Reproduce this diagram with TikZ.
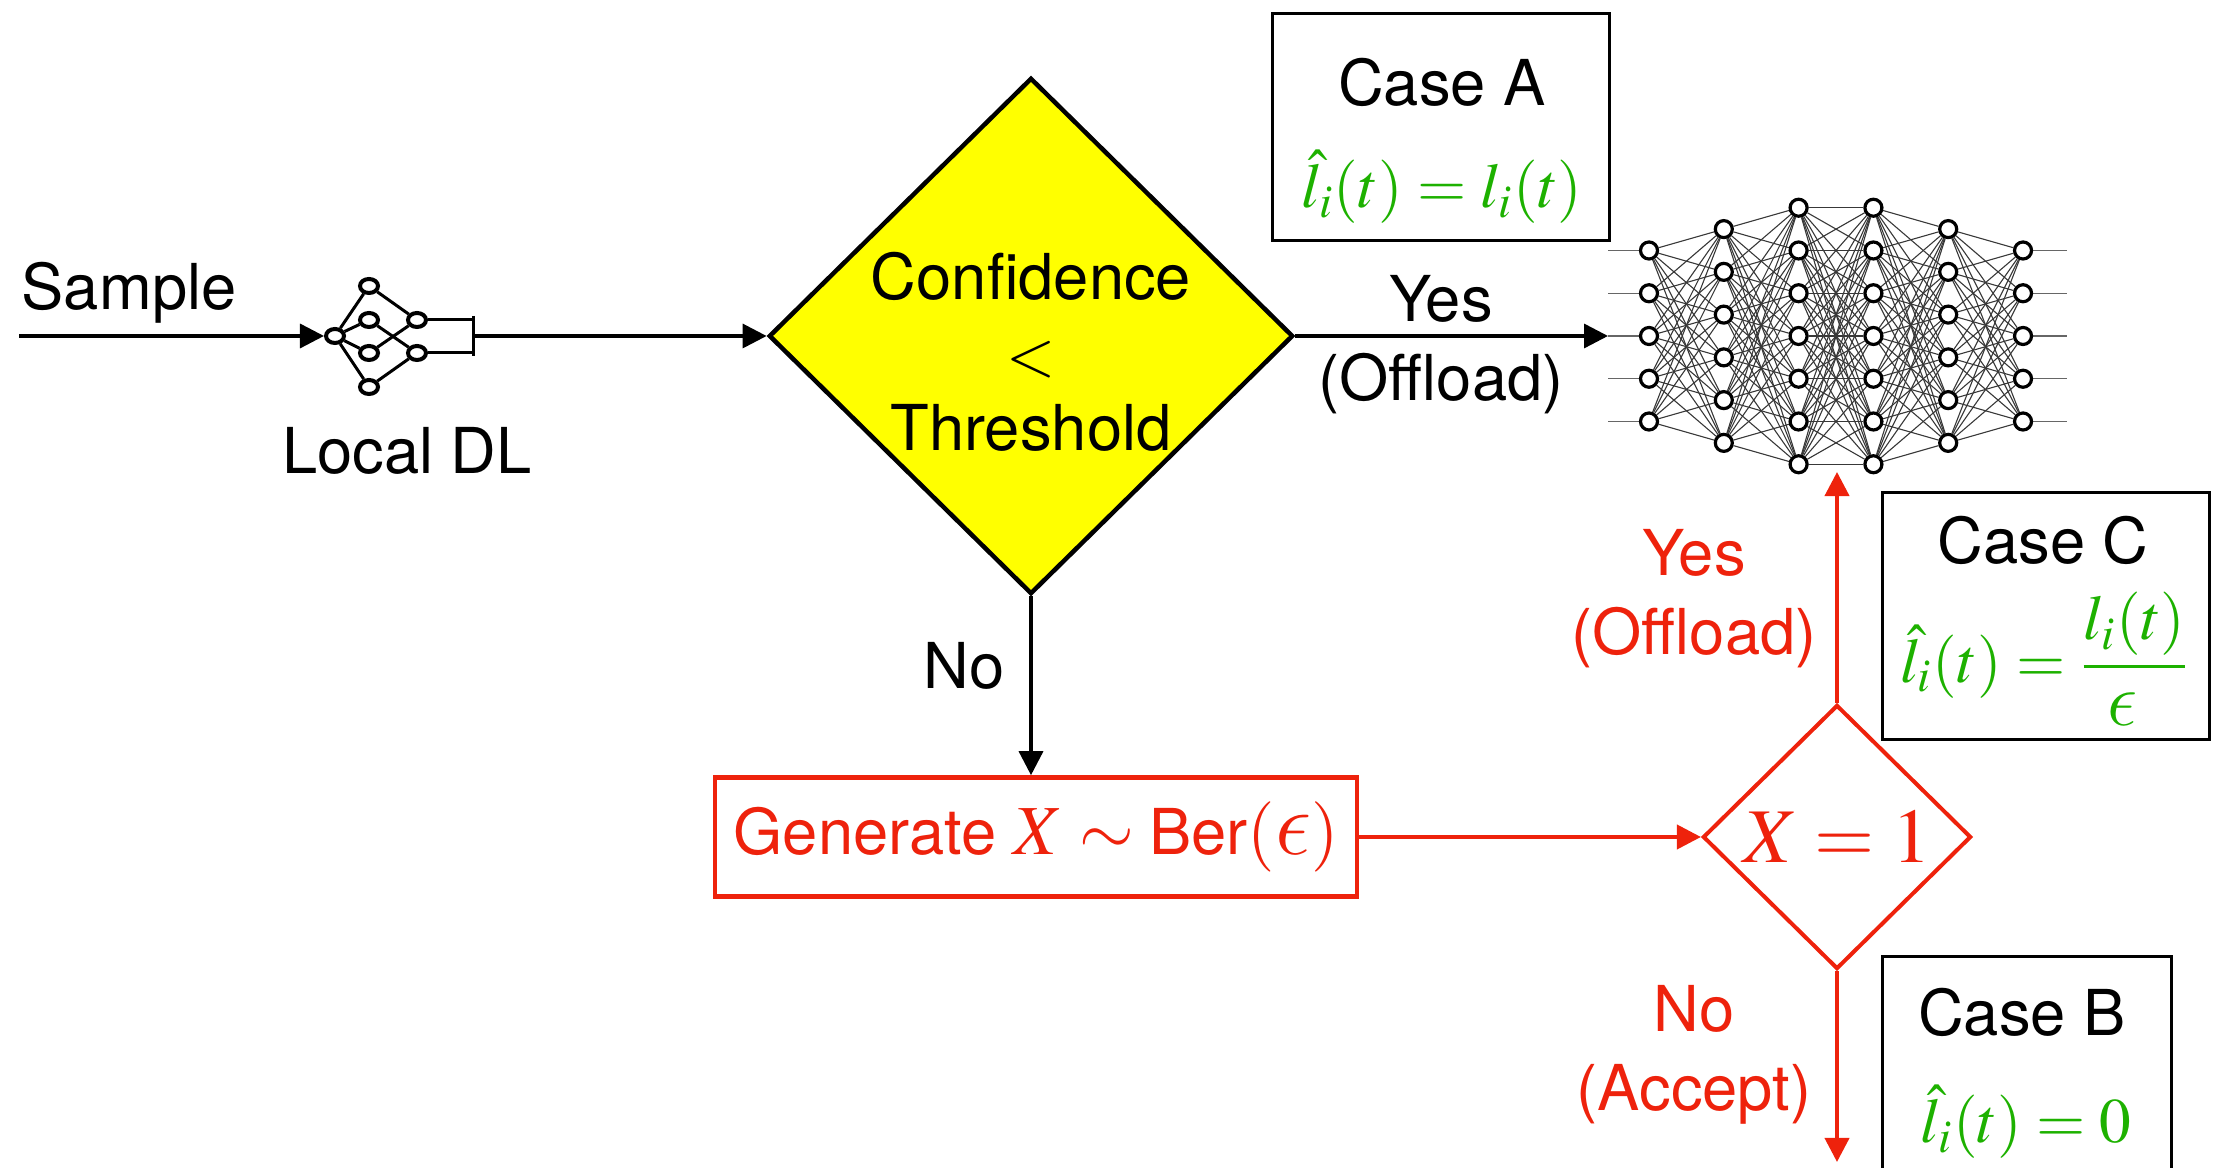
\documentclass[tikz,border=0pt]{standalone}
\usepackage{graphicx}
\usepackage{mathptmx}
\usepackage[no-math]{fontspec}
\setmainfont{TeX Gyre Heros}
\usetikzlibrary{shapes.geometric,arrows.meta,backgrounds}
% lunate epsilon taken from the Computer Modern math italic, enlarged to sit with Times
\DeclareSymbolFont{cmletters}{OML}{cmm}{m}{it}
\DeclareMathSymbol{\lunateps}{\mathord}{cmletters}{"0F}
\newcommand{\bigeps}{\mathord{\scalebox{1.25}{$\lunateps$}}}
\definecolor{flowred}{RGB}{238,34,12}
\definecolor{eqgreen}{RGB}{29,177,0}
\definecolor{fcyellow}{RGB}{255,255,0}

\begin{document}
\begin{tikzpicture}[x=0.01cm,y=-0.01cm,
  lbl/.style={font=\fontsize{18}{22.5}\selectfont, inner sep=0pt, align=center},
  eq/.style={text=eqgreen, inner sep=0pt, font=\fontsize{18}{22}\selectfont},
  arr/.style={line width=0.034cm, -{Triangle[length=0.24cm,width=0.24cm]}},
  redarr/.style={arr, draw=flowred, fill=flowred, line width=0.04cm},
  casebox/.style={draw, line width=0.03cm, inner sep=0pt},
  neuron/.style={circle, draw, fill=white, line width=0.032cm, minimum size=0.17cm, inner sep=0pt},
  dlnode/.style={ellipse, draw, fill=white, line width=0.04cm, minimum width=0.18cm, minimum height=0.14cm, inner sep=0pt},
  dlwire/.style={line width=0.03cm},
  syn/.style={draw=black!78, line width=0.011cm},
  stub/.style={draw=black!60, line width=0.011cm}
]
\useasboundingbox (0,0) rectangle (2221,1168);
\clip (0,0) rectangle (2221,1168);

% ---------- input and local model ----------
\node[lbl, anchor=base west] (sample) at (21,310) {Sample};
\coordinate (src) at (19,336);

\node[dlnode] (din) at (335,336) {};
\node[dlnode] (dh1) at (369,286) {};
\node[dlnode] (dh2) at (369,320) {};
\node[dlnode] (dh3) at (369,353) {};
\node[dlnode] (dh4) at (369,387) {};
\node[dlnode] (do1) at (417,320) {};
\node[dlnode] (do2) at (417,353) {};
\foreach \h in {dh1,dh2,dh3,dh4} \draw[dlwire] (din) -- (\h);
\draw[dlwire] (dh1) -- (do1);
\draw[dlwire] (dh3) -- (do1);
\draw[dlwire] (dh2) -- (do2);
\draw[dlwire] (dh4) -- (do2);
\coordinate (b1) at (473,320);
\coordinate (b2) at (473,353);
\coordinate (btop) at (473,316);
\coordinate (bbot) at (473,356);
\coordinate (bout) at (473,336);
\draw[dlwire] (do1) -- (b1);
\draw[dlwire] (do2) -- (b2);
\draw[dlwire] (btop) -- (bbot);
\node[lbl] (dllabel) at (407,451) {Local DL};

\draw[arr] (src) -- (din.west);

% ---------- confidence test ----------
\node[diamond, draw, fill=fcyellow, line width=0.045cm, minimum width=5.24cm,
      minimum height=5.16cm, inner sep=0pt] (conf) at (1031,336) {};
\node[lbl, font=\fontsize{18}{21.5}\selectfont] (conftext) at (1031,352) {Confidence\\$<$\\Threshold};
\draw[arr] (bout) -- (conf.west);

\node[lbl] (yesA) at (1441,345) {Yes\\(Offload)};
\node[lbl] (noA) at (964,666) {No};

% ---------- remote network ----------
\foreach \L/\n in {1/5,2/6,3/7,4/7,5/6,6/5} {
  \foreach \k in {1,...,\n} {
    \node[neuron] (n-\L-\k) at ({1649+74.8*(\L-1)}, {336+(\k-(\n+1)/2)*42.75}) {};
  }
}
\begin{pgfonlayer}{background}
\foreach \L/\n/\m in {1/5/6,2/6/7,3/7/7,4/7/6,5/6/5} {
  \pgfmathtruncatemacro\Lnext{\L+1}
  \foreach \a in {1,...,\n} {
    \foreach \b in {1,...,\m} {
      \draw[syn] (n-\L-\a) -- (n-\Lnext-\b);
    }
  }
}
\foreach \k in {1,...,5} {
  \coordinate (in-\k) at (1608, {336+(\k-3)*42.75});
  \coordinate (out-\k) at (2067, {336+(\k-3)*42.75});
  \draw[stub] (in-\k) -- (n-1-\k);
  \draw[stub] (n-6-\k) -- (out-\k);
}
\end{pgfonlayer}
\draw[arr] (conf.east) -- (in-3);

% ---------- random offloading ----------
\node[draw=flowred, line width=0.045cm, minimum width=6.42cm, minimum height=1.19cm,
      inner sep=0pt, text=flowred, font=\fontsize{18}{22}\selectfont] (gen) at (1036,837)
  {Generate {\fontsize{20}{24}\selectfont $X\sim\mbox{\fontsize{18}{22}\selectfont Ber}(\bigeps)$}};
\draw[arr] (conf.south) -- (gen.north -| conf.south);

\node[diamond, draw=flowred, line width=0.04cm, minimum width=2.68cm, minimum height=2.64cm,
      inner sep=0pt, text=flowred] (xdec) at (1837,837) {\fontsize{22}{26}\selectfont $X=1$};
\draw[redarr] (gen.east) -- (xdec.west);

\coordinate (nnbot) at (1837,472);
\coordinate (accept) at (1837,1162);
\draw[redarr] (xdec.north) -- (nnbot);
\draw[redarr] (xdec.south) -- (accept);

\node[lbl, text=flowred] (yesB) at (1694,599) {Yes\\(Offload)};
\node[lbl, text=flowred] (noB) at (1694,1055) {No\\(Accept)};

% ---------- cases ----------
\node[casebox, minimum width=3.36cm, minimum height=2.27cm] (caseA) at (1441,127) {};
\node[lbl] (caseAt) at (1442,82) {Case A};
\node[eq, anchor=base] (caseAeq) at (1442,208) {$\hat{l}_i(t)=l_i(t)$};

\node[casebox, minimum width=3.27cm, minimum height=2.47cm] (caseC) at (2046,616) {};
\node[lbl] (caseCt) at (2043,540) {Case C};
\node[eq] (caseCeq) at (2045,659) {$\hat{l}_i(t)=\displaystyle\frac{l_i(t)}{\bigeps}$};

\node[casebox, minimum width=2.89cm, minimum height=2.46cm] (caseB) at (2027,1080) {};
\node[lbl] (caseBt) at (2022,1012) {Case B};
\node[eq, anchor=base] (caseBeq) at (2026,1143) {$\hat{l}_i(t)=0$};
\end{tikzpicture}
\end{document}
